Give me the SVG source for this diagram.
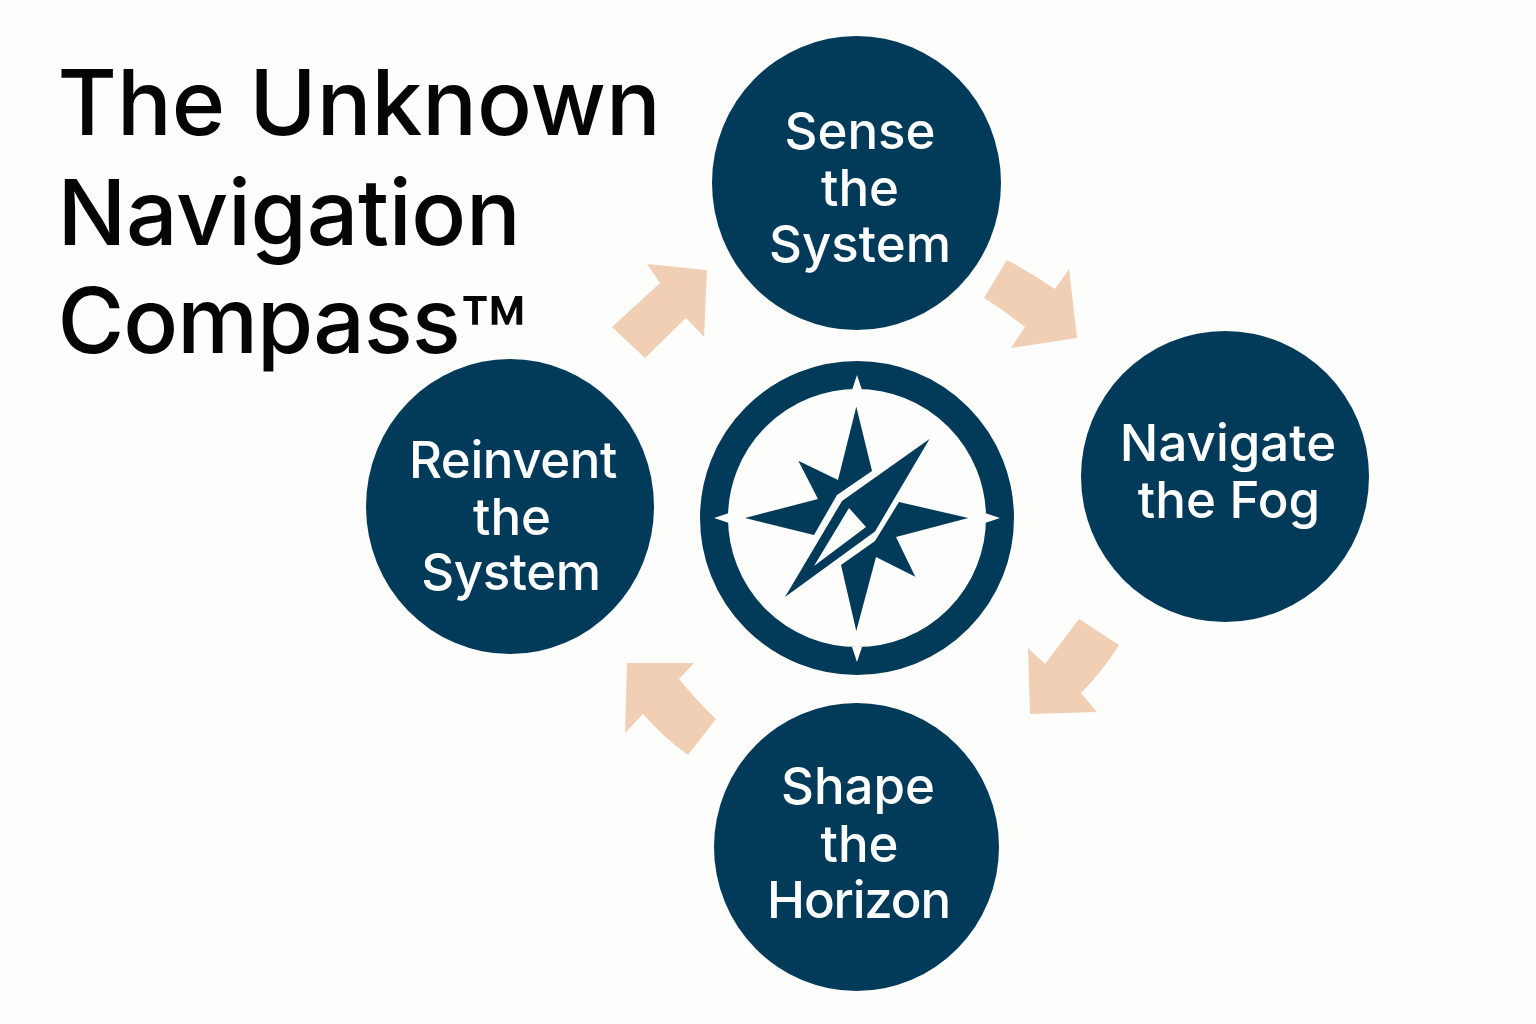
<svg xmlns="http://www.w3.org/2000/svg" width="1536" height="1024" viewBox="0 0 1536 1024">
<style>
.n{fill:#023b5a}
.t{fill:#fff;font-family:Inter,"Liberation Sans",sans-serif;font-size:51px;font-weight:500;text-anchor:middle}
.h{fill:#050505;font-family:Inter,"Liberation Sans",sans-serif;font-size:91px;font-weight:500}
.a{fill:#f0cfb5}
</style>
<rect width="1536" height="1024" fill="#fdfdfb"/>
<g id="title">
<text class="h" x="57.500" y="135">The Unknown</text>
<text class="h" x="57.500" y="245" letter-spacing="-0.300">Navigation</text>
<text class="h" x="57.500" y="353" letter-spacing="-1">Compass<tspan font-size="110" dy="23" dx="-1">™</tspan></text>
</g>
<g id="connectors">
<path class="a" d="M612 327L660 283L647 264L707 270L704 337L686 318L645 358Z"/>
<path class="a" d="M1007 260Q1033 274 1055 289L1069 269L1077 338L1011 348L1025 327Q1005 311 984 298Z"/>
<path class="a" d="M1079 619L1119 645Q1103 671 1081 693L1097 712L1030 714L1028 648L1045 664Z"/>
<path class="a" d="M627 663L694 663L679 679Q696 700 716 719L688 755Q664 738 643 714L625 733Z"/>
</g>
<g id="node-sense">
<ellipse class="n" cx="856.500" cy="183" rx="144.500" ry="147"/>
<text class="t" x="860" y="149">Sense</text>
<text class="t" x="860" y="206">the</text>
<text class="t" x="860" y="262">System</text>
</g>
<g id="node-navigate">
<ellipse class="n" cx="1225" cy="476.500" rx="144" ry="145.500"/>
<text class="t" x="1228" y="461">Navigate</text>
<text class="t" x="1229" y="518">the Fog</text>
</g>
<g id="node-shape">
<ellipse class="n" cx="856.500" cy="847" rx="142.500" ry="144"/>
<text class="t" x="858" y="804">Shape</text>
<text class="t" x="859.500" y="862">the</text>
<text class="t" x="858.500" y="918" letter-spacing="-1.200">Horizon</text>
</g>
<g id="node-reinvent">
<ellipse class="n" cx="510" cy="506.500" rx="144" ry="147.500"/>
<text class="t" x="513" y="478" letter-spacing="-0.400">Reinvent</text>
<text class="t" x="512" y="535">the</text>
<text class="t" x="511" y="590" letter-spacing="-0.400">System</text>
</g>
<g id="node-compass">
<circle cx="857" cy="518" r="143" fill="none" stroke="#023b5a" stroke-width="28"/>
<path fill="#fdfdfb" d="M857 375L852 390L862 390ZM857 662L852 647L862 647ZM714 518L729 513L729 523ZM1000 518L985 513L985 523Z"/>
<path class="n" d="M856.300 406.700L872 471L837 495L814 535L745 518L818 499L798.300 460.700L838 480Z"/>
<path class="n" d="M968.300 518L896 537L915.300 576.700L876 557L856.300 631L841 565L875 541L899 502Z"/>
<path class="n" fill-rule="evenodd" d="M929.500 439L875 531.500L785 597L842 501ZM849 508L814 566L866 527Z"/>
</g>
</svg>
